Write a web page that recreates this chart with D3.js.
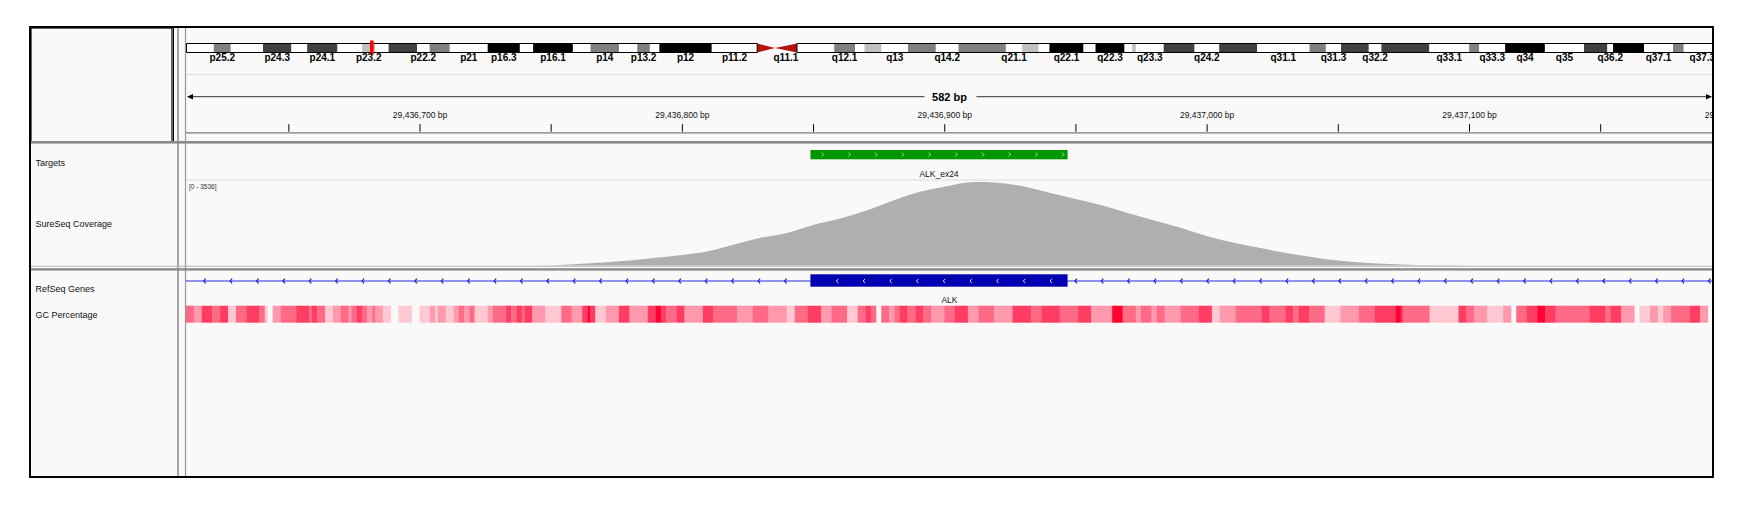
<!DOCTYPE html>
<html>
<head>
<meta charset="utf-8">
<script src="https://cdn.jsdelivr.net/npm/d3@7"></script>
<style>
  body { margin: 0; background: #fff; }
  text { font-family: "Liberation Sans", Arial, sans-serif; }
</style>
</head>
<body>
<div id="viz"></div>
<script>
// chr2 cytobands (Mb start), stains and which labels fit
const chrLength = 243.2;
const bandNames = ["p25.3","p25.2","p25.1","p24.3","p24.2","p24.1","p23.3","p23.2","p23.1","p22.3","p22.2","p22.1","p21","p16.3","p16.2","p16.1","p15","p14","p13.3","p13.2","p13.1","p12","p11.2","p11.1",
  "q11.1","q11.2","q12.1","q12.2","q12.3","q13","q14.1","q14.2","q14.3","q21.1","q21.2","q21.3","q22.1","q22.2","q22.3","q23.1","q23.2","q23.3","q24.1","q24.2","q24.3","q31.1","q31.2","q31.3","q32.1","q32.2","q32.3","q33.1","q33.2","q33.3","q34","q35","q36.1","q36.2","q36.3","q37.1","q37.2","q37.3"];
const bandStarts = [0,4.4,7.1,12.2,16.7,19.2,24.0,27.9,30.0,32.1,36.6,38.6,41.8,47.8,52.9,55.0,61.3,64.1,68.6,71.5,73.5,75.0,83.3,90.5,
  93.3,96.8,102.7,106.0,107.5,110.2,114.4,118.8,122.4,129.9,132.5,135.1,136.8,142.2,144.1,148.7,149.9,150.5,154.9,159.8,163.7,169.7,178.0,180.6,183.0,187.4,189.4,197.0,203.3,204.9,209.0,215.3,221.5,225.2,226.1,231.0,235.6,237.3];
const bandStains = ["gneg","gpos50","gneg","gpos75","gneg","gpos75","gneg","gpos25","gneg","gpos75","gneg","gpos50","gneg","gpos100","gneg","gpos100","gneg","gpos50","gneg","gpos50","gneg","gpos100","gneg","acen",
  "acen","gneg","gpos50","gneg","gpos25","gneg","gpos50","gneg","gpos50","gneg","gpos25","gneg","gpos100","gneg","gpos100","gneg","gpos25","gneg","gpos75","gneg","gpos75","gneg","gpos50","gneg","gpos75","gneg","gpos75","gneg","gpos50","gneg","gpos100","gneg","gpos75","gneg","gpos100","gneg","gpos50","gneg"];
const bandLabels = ["p25.2","p24.3","p24.1","p23.2","p22.2","p21","p16.3","p16.1","p14","p13.2","p12","p11.2","q11.1","q12.1","q13","q14.2","q21.1","q22.1","q22.3","q23.3",
  "q24.2","q31.1","q31.3","q32.2","q33.1","q33.3","q34","q35","q36.2","q37.1","q37.3"];
const locusMb = 29.44;

// view
const viewStart = 29436611;
const viewEnd = 29437193;
const rulerLabels = [29436700, 29436800, 29436900, 29437000, 29437100, 29437200];
const rulerMinor = [29436650, 29436750, 29436850, 29436950, 29437050, 29437150];

// features
const targetName = "ALK_ex24";
const targetStart = 29436849, targetEnd = 29436947;
const geneName = "ALK";
const exonStart = 29436849, exonEnd = 29436947;

// coverage
const covMax = 3536;
const covPos = [29436740, 29436750, 29436760, 29436770, 29436780, 29436790, 29436800, 29436810, 29436820, 29436830, 29436840,
  29436850, 29436860, 29436870, 29436880, 29436890, 29436900, 29436910, 29436915, 29436920, 29436930, 29436940, 29436950,
  29436960, 29436970, 29436980, 29436990, 29437000, 29437010, 29437020, 29437030, 29437040, 29437050, 29437060, 29437070,
  29437080, 29437090, 29437100];
const covVals = [0, 10, 64, 127, 212, 327, 446, 603, 891, 1176, 1380,
  1719, 1982, 2314, 2730, 3099, 3332, 3523, 3536, 3502, 3353, 3077, 2814,
  2547, 2220, 1910, 1600, 1252, 976, 751, 539, 361, 212, 115, 64,
  25, 8, 0];

// GC percentage segments: offset from viewStart (bp) and GC % (null = no data)
const gcOffsets = [0,3,6,10,13,16,19,23,28,30,31,33,36,42,47,48,50,53,56,59,62,63,65,67,69,71,72,75,78,81,86,89,93,95,96,99,102,104,106,108,110,115,117,122,124,126,128,129,132,137,143,147,151,153,154,156,160,165,169,176,179,181,183,187,190,197,201,210,216,222,229,232,237,242,246,252,256,259,261,263,265,268,270,272,275,278,281,284,
  289,293,298,302,308,315,322,326,333,340,345,353,357,362,364,368,370,373,379,386,391,394,400,410,413,419,422,424,428,434,440,447,453,461,463,464,474,485,488,491,496,502,505,507,511,515,518,522,535,541,543,547,552,554,558,561,563,566,573,577,580];
const gcPct = [55,45,65,55,65,35,55,65,55,35,null,45,55,65,55,65,55,35,45,55,45,55,65,55,45,55,45,35,null,35,null,35,45,35,45,35,45,55,45,55,35,45,55,65,55,65,55,65,45,35,55,45,65,78,65,35,45,65,45,65,78,65,55,65,45,65,55,45,55,45,35,55,65,45,55,35,55,65,55,null,55,45,55,65,55,65,55,45,
  55,65,45,55,45,65,55,65,55,65,45,78,55,45,55,45,55,45,55,65,35,45,55,65,55,65,55,65,55,35,45,55,65,78,65,55,35,65,55,45,35,45,null,55,65,78,65,55,65,55,65,45,null,35,45,35,45,55,65,45];

// layout
const W = 1748, H = 511;
const box = {x: 30, y: 27, w: 1683, h: 450};
const dataL = 186, dataR = 1713;

const svg = d3.select("#viz").append("svg")
  .attr("width", W).attr("height", H);

svg.append("defs").append("clipPath").attr("id", "dataclip")
  .append("rect").attr("x", dataL).attr("y", box.y).attr("width", dataR - dataL).attr("height", box.h);

// panel background
svg.append("rect").attr("x", box.x).attr("y", box.y).attr("width", box.w).attr("height", box.h)
  .attr("fill", "#f9f9f9");

// name panel header box
svg.append("rect").attr("x", box.x + 1).attr("y", box.y + 1).attr("width", 141).attr("height", 114)
  .attr("fill", "none").attr("stroke", "#000").attr("stroke-width", 1.2);

// vertical dividers
[[173.5, "#000", 1, box.y, 142], [178, "#888", 1.5, box.y, box.y + box.h], [185.5, "#999", 1.2, box.y, box.y + box.h]]
  .forEach(d => svg.append("line").attr("x1", d[0]).attr("x2", d[0]).attr("y1", d[3]).attr("y2", d[4])
    .attr("stroke", d[1]).attr("stroke-width", d[2]));

const data = svg.append("g").attr("clip-path", "url(#dataclip)");

/*
 * Ideogram
 */
const xChr = d3.scaleLinear().domain([0, chrLength]).range([dataL, 1721]);
const stainColor = {gneg: "#ffffff", gpos25: "#c0c0c0", gpos50: "#808080", gpos75: "#404040", gpos100: "#000000", acen: "#b4120f"};
const bands = bandNames.map((n, i) => ({
  name: n, start: bandStarts[i], end: i < bandStarts.length - 1 ? bandStarts[i + 1] : chrLength, stain: bandStains[i]
}));
const ideoTop = 43.5, ideoBot = 52.5, ideoMid = (ideoTop + ideoBot) / 2;

data.selectAll("rect.band")
  .data(bands.filter(b => b.stain !== "acen"))
  .enter().append("rect")
  .attr("class", "band")
  .attr("x", d => xChr(d.start))
  .attr("y", ideoTop)
  .attr("width", d => xChr(d.end) - xChr(d.start))
  .attr("height", ideoBot - ideoTop)
  .attr("fill", d => stainColor[d.stain]);

data.selectAll("path.acen")
  .data(bands.filter(b => b.stain === "acen"))
  .enter().append("path")
  .attr("class", "acen")
  .attr("d", d => d.name.startsWith("p")
    ? `M${xChr(d.start)},${ideoTop}L${xChr(d.end)},${ideoMid}L${xChr(d.start)},${ideoBot}Z`
    : `M${xChr(d.end)},${ideoTop}L${xChr(d.start)},${ideoMid}L${xChr(d.end)},${ideoBot}Z`)
  .attr("fill", stainColor.acen);

// outline of arms
const pEnd = xChr(bandStarts[bandNames.indexOf("p11.1")]);
const qStart = xChr(bandStarts[bandNames.indexOf("q11.2")]);
data.append("path")
  .attr("d", `M${pEnd},${ideoTop}H${xChr(0) + 0.5}V${ideoBot}H${pEnd}V${ideoTop}`)
  .attr("fill", "none").attr("stroke", "#000").attr("stroke-width", 1);
data.append("path")
  .attr("d", `M${qStart},${ideoTop}H${xChr(chrLength)}M${qStart},${ideoBot}H${xChr(chrLength)}M${qStart},${ideoTop}V${ideoBot}`)
  .attr("fill", "none").attr("stroke", "#000").attr("stroke-width", 1);

// current locus marker
data.append("rect")
  .attr("x", xChr(locusMb) - 1.8).attr("y", 40.5)
  .attr("width", 3.6).attr("height", 14)
  .attr("fill", "#ff0000");

data.selectAll("text.bandlab")
  .data(bands.filter(b => bandLabels.includes(b.name)))
  .enter().append("text")
  .attr("class", "bandlab")
  .attr("x", d => xChr((d.start + d.end) / 2))
  .attr("y", 61)
  .attr("text-anchor", "middle")
  .attr("font-size", "10px")
  .attr("font-weight", "bold")
  .attr("fill", "#000")
  .text(d => d.name);

// separator under ideogram
data.append("line").attr("x1", dataL).attr("x2", dataR).attr("y1", 74.5).attr("y2", 74.5)
  .attr("stroke", "#dedede").attr("stroke-width", 1);

/*
 * Ruler
 */
const x = d3.scaleLinear().domain([viewStart, viewEnd]).range([dataL, dataR]);
const rulerY = 96.7;
const spanLabel = `${viewEnd - viewStart} bp`;
const midX = (dataL + dataR) / 2;
data.append("line").attr("x1", dataL + 2).attr("x2", midX - 25).attr("y1", rulerY).attr("y2", rulerY)
  .attr("stroke", "#333").attr("stroke-width", 1);
data.append("line").attr("x1", midX + 27).attr("x2", dataR - 2).attr("y1", rulerY).attr("y2", rulerY)
  .attr("stroke", "#333").attr("stroke-width", 1);
data.append("path").attr("d", `M${dataL + 1},${rulerY}L${dataL + 7},${rulerY - 2.8}L${dataL + 7},${rulerY + 2.8}Z`).attr("fill", "#000");
data.append("path").attr("d", `M${dataR - 1},${rulerY}L${dataR - 7},${rulerY - 2.8}L${dataR - 7},${rulerY + 2.8}Z`).attr("fill", "#000");
data.append("text").attr("x", midX).attr("y", rulerY + 4)
  .attr("text-anchor", "middle").attr("font-size", "11px").attr("font-weight", "bold").attr("fill", "#000")
  .text(spanLabel);

const axis = d3.axisTop(x)
  .tickValues(rulerLabels.concat(rulerMinor))
  .tickSize(7.5)
  .tickFormat(d => rulerLabels.includes(d) ? d3.format(",")(d) + " bp" : "");
const axG = data.append("g").attr("transform", "translate(0,131.7)").call(axis);
axG.select(".domain").remove();
axG.selectAll(".tick line").attr("stroke", "#000").attr("stroke-width", 1);
axG.selectAll(".tick text")
  .attr("font-family", "'Liberation Sans', Arial, sans-serif")
  .attr("font-size", "8.5px").attr("fill", "#111").attr("dy", "-3.7");

// ruler bottom lines
svg.append("line").attr("x1", dataL).attr("x2", dataR).attr("y1", 132.8).attr("y2", 132.8)
  .attr("stroke", "#7a7a7a").attr("stroke-width", 1.3);
svg.append("rect").attr("x", box.x).attr("y", 141).attr("width", box.w).attr("height", 2.6).attr("fill", "#8a8a8a");

/*
 * Targets
 */
data.append("rect")
  .attr("x", x(targetStart)).attr("y", 150)
  .attr("width", x(targetEnd) - x(targetStart)).attr("height", 9.3)
  .attr("fill", "#009600");
const tgtChev = d3.range(x(targetStart) + 12.3, x(targetEnd) - 2, 26.7);
data.selectAll("path.tchev").data(tgtChev).enter().append("path")
  .attr("class", "tchev")
  .attr("d", d => `M${d - 1},${152.6}L${d + 1},${154.6}L${d - 1},${156.6}`)
  .attr("fill", "none").attr("stroke", "#c8ecc8").attr("stroke-width", 0.9);
data.append("text").attr("x", (x(targetStart) + x(targetEnd)) / 2).attr("y", 177)
  .attr("text-anchor", "middle").attr("font-size", "8.5px").attr("fill", "#111").text(targetName);

data.append("line").attr("x1", dataL).attr("x2", dataR).attr("y1", 180).attr("y2", 180)
  .attr("stroke", "#dcdce4").attr("stroke-width", 1.2);

/*
 * Coverage
 */
const covBase = 265.5;
const yCov = d3.scaleLinear().domain([0, covMax]).range([covBase, 182]);
const area = d3.area()
  .x((d, i) => x(covPos[i]))
  .y0(covBase)
  .y1(d => yCov(d))
  .curve(d3.curveMonotoneX);
data.append("path").datum(covVals).attr("d", area).attr("fill", "#afafaf");
data.append("text").attr("x", dataL + 3).attr("y", 189)
  .attr("font-size", "6.5px").attr("fill", "#333").text(`[0 - ${covMax}]`);

// split pane divider
svg.append("line").attr("x1", box.x).attr("x2", box.x + box.w).attr("y1", 266.2).attr("y2", 266.2)
  .attr("stroke", "#b4b4b4").attr("stroke-width", 1);
svg.append("rect").attr("x", box.x).attr("y", 268.2).attr("width", box.w).attr("height", 2.4).attr("fill", "#8a8a8a");

/*
 * RefSeq gene
 */
const geneY = 281;
data.append("line").attr("x1", dataL).attr("x2", dataR).attr("y1", geneY).attr("y2", geneY)
  .attr("stroke", "#2b2bd9").attr("stroke-width", 1);
const intronChev = d3.range(dataL + 18.7, dataR, 26.4)
  .filter(p => p < x(exonStart) - 3 || p > x(exonEnd) + 3);
data.selectAll("path.ichev").data(intronChev).enter().append("path")
  .attr("class", "ichev")
  .attr("d", d => `M${d + 1},${geneY - 2.4}L${d - 1},${geneY}L${d + 1},${geneY + 2.4}`)
  .attr("fill", "none").attr("stroke", "#2020d0").attr("stroke-width", 1.2);
data.append("rect")
  .attr("x", x(exonStart)).attr("y", 274.3)
  .attr("width", x(exonEnd) - x(exonStart)).attr("height", 12.4)
  .attr("fill", "#0000b2");
const exonChev = d3.range(x(exonStart) + 27, x(exonEnd) - 10, 26.7);
data.selectAll("path.echev").data(exonChev).enter().append("path")
  .attr("class", "echev")
  .attr("d", d => `M${d + 1},${geneY - 2.2}L${d - 1},${geneY}L${d + 1},${geneY + 2.2}`)
  .attr("fill", "none").attr("stroke", "#dcdcff").attr("stroke-width", 1);
data.append("text").attr("x", midX).attr("y", 303)
  .attr("text-anchor", "middle").attr("font-size", "8.5px").attr("fill", "#111").text(geneName);

/*
 * GC percentage
 */
const gcColor = d3.scaleLinear().domain([35, 78]).range(["#ffc8d3", "#ff0030"]).clamp(true);
const gcSegs = gcPct.map((v, i) => ({v: v, s: viewStart + gcOffsets[i], e: viewStart + gcOffsets[i + 1]}))
  .filter(d => d.v !== null);
data.selectAll("rect.gc").data(gcSegs).enter().append("rect")
  .attr("class", "gc")
  .attr("x", d => x(d.s))
  .attr("y", 305.7)
  .attr("width", d => x(d.e) - x(d.s) + 0.3)
  .attr("height", 17)
  .attr("fill", d => gcColor(d.v));

/*
 * Track names
 */
const trackNames = ["Targets", "SureSeq Coverage", "RefSeq Genes", "GC Percentage"];
const trackNameY = [166, 226.5, 291.5, 318];
svg.selectAll("text.tname").data(trackNames).enter().append("text")
  .attr("class", "tname")
  .attr("x", 35.5)
  .attr("y", (d, i) => trackNameY[i])
  .attr("font-size", "9px")
  .attr("fill", "#111")
  .text(d => d);

// outer border
svg.append("rect").attr("x", box.x).attr("y", box.y).attr("width", box.w).attr("height", box.h)
  .attr("fill", "none").attr("stroke", "#000").attr("stroke-width", 2);
</script>
</body>
</html>
